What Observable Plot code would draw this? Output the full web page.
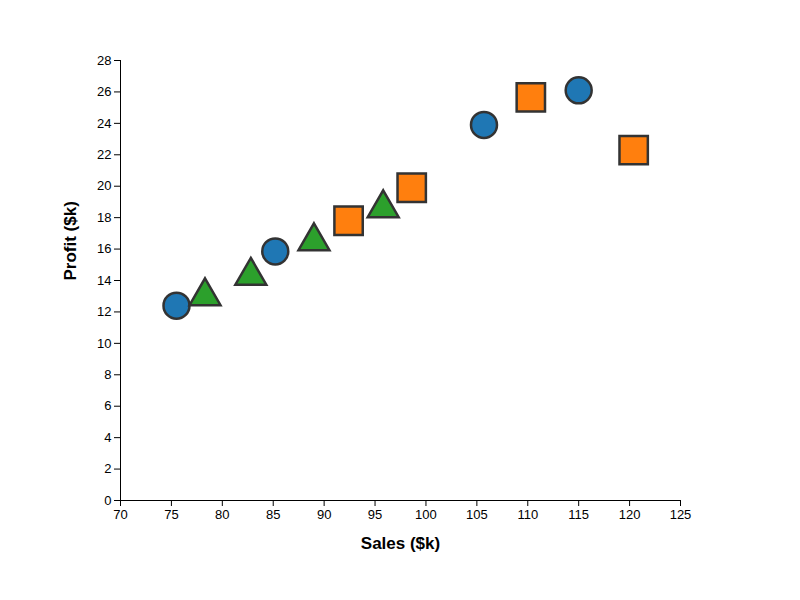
<!DOCTYPE html>
<html><head>
<script src="https://cdn.jsdelivr.net/npm/d3@7"></script>
<script src="https://cdn.jsdelivr.net/npm/@observablehq/plot@0.6"></script>
<style>body{margin:0;background:#fff;font-family:"Liberation Sans",Arial,sans-serif}</style>
</head><body><div id="chart"></div>
<script>
// valores
const circleSales = [75.5, 85.2, 105.7, 115.0]
const circleProfit = [12.4, 15.85, 23.9, 26.1]
const triSales = [78.3, 82.8, 89.0, 95.8]
const triProfit = [13.0, 14.3, 16.5, 18.6]
const sqSales = [92.4, 98.6, 110.3, 120.4]
const sqProfit = [17.8, 19.9, 25.65, 22.3]
const xTicks = d3.range(70, 126, 5)
const yTicks = d3.range(0, 29, 2)

const pts = (xs, ys) => xs.map((x, i) => ({sales: x, profit: ys[i]}))

const chart = Plot.plot({
  width: 800, height: 600,
  marginLeft: 120, marginRight: 120, marginTop: 60, marginBottom: 100,
  style: {fontFamily: "Liberation Sans, Arial, sans-serif", fontSize: "13px", color: "#000"},
  x: {domain: [70, 125]},
  y: {domain: [0, 28]},
  marks: [
    Plot.axisX({ticks: xTicks, tickSize: 6, label: null, fontSize: 13}),
    Plot.axisY({ticks: yTicks, tickSize: 6, label: null, fontSize: 13}),
    Plot.ruleX([70]),
    Plot.ruleY([0]),
    Plot.dot(pts(circleSales, circleProfit), {x: "sales", y: "profit", r: 13, symbol: "circle", fill: "#1f77b4", stroke: "#333", strokeWidth: 2.5}),
    Plot.dot(pts(triSales, triProfit), {x: "sales", y: "profit", r: 11.5, symbol: "triangle", fill: "#2ca02c", stroke: "#333", strokeWidth: 2.5}),
    Plot.dot(pts(sqSales, sqProfit), {x: "sales", y: "profit", r: 16, symbol: "square", fill: "#ff7f0e", stroke: "#333", strokeWidth: 2.5}),
    Plot.text(["Sales ($k)"], {frameAnchor: "bottom", dy: 48, fontSize: 17, fontWeight: "bold", text: d => d}),
    Plot.text(["Profit ($k)"], {frameAnchor: "left", dx: -50, rotate: -90, fontSize: 17, fontWeight: "bold", text: d => d})
  ]
})
d3.select('#chart').append(() => chart)
</script></body></html>
